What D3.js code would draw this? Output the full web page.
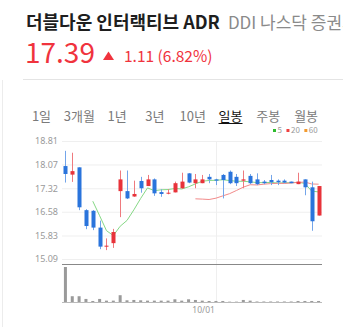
<!DOCTYPE html>
<html>
<head>
<meta charset="utf-8">
<script src="https://cdn.jsdelivr.net/npm/d3@7"></script>
<style>
  body { margin: 0; background: #fff; }
  svg { display: block; font-family: "Noto Sans CJK KR", "Noto Sans", sans-serif; }
</style>
</head>
<body>
<div id="chart"></div>
<script>
(function() {
    // ---- data ----
    var dates = ['08/31', '09/01', '09/02', '09/03', '09/07', '09/08', '09/09', '09/10',
                 '09/13', '09/14', '09/15', '09/16', '09/17', '09/20', '09/21', '09/22',
                 '09/23', '09/24', '09/27', '09/28', '09/29', '09/30', '10/01', '10/04',
                 '10/05', '10/06', '10/07', '10/08', '10/11', '10/12', '10/13', '10/14',
                 '10/15', '10/18', '10/19', '10/20', '10/21', '10/22'];
    var open  = [18.02, 17.75, 17.98, 16.63, 16.61, 16.08, 15.48, 15.59, 17.23, 17.23,
                 17.06, 17.55, 17.39, 17.60, 17.20, 17.16, 17.19, 17.32, 17.79, 17.48,
                 17.48, 17.68, 17.60, 17.74, 17.84, 17.68, 17.56, 17.71, 17.60, 17.53,
                 17.58, 17.56, 17.56, 17.53, 17.45, 17.60, 17.35, 16.46];
    var high  = [18.50, 18.44, 17.98, 16.66, 16.63, 16.30, 15.74, 16.04, 17.88, 17.88,
                 17.56, 17.68, 17.74, 17.63, 17.29, 17.29, 17.53, 17.81, 17.80, 17.77,
                 17.74, 17.77, 17.62, 17.77, 17.88, 17.77, 17.88, 17.77, 17.79, 17.58,
                 17.74, 17.60, 17.60, 17.53, 17.81, 17.60, 17.53, 17.39];
    var low   = [17.50, 17.52, 16.63, 16.03, 16.00, 15.40, 15.37, 15.44, 16.41, 16.98,
                 17.05, 17.18, 17.39, 17.08, 17.05, 17.13, 17.19, 17.30, 17.48, 17.32,
                 17.48, 17.48, 17.42, 17.00, 17.45, 17.39, 17.32, 17.45, 17.42, 17.45,
                 17.42, 17.42, 17.48, 17.48, 17.45, 17.10, 15.98, 16.46];
    var close = [17.77, 17.86, 16.72, 16.13, 16.08, 15.48, 15.51, 15.94, 17.60, 17.00,
                 17.14, 17.32, 17.60, 17.16, 17.14, 17.18, 17.48, 17.53, 17.50, 17.60,
                 17.60, 17.60, 17.56, 17.58, 17.48, 17.48, 17.60, 17.48, 17.45, 17.48,
                 17.51, 17.51, 17.50, 17.48, 17.53, 17.35, 16.28, 17.39];
    var volume = [1030, 170, 170, 90, 30, 90, 40, 40, 200, 50, 60, 50, 40, 40, 40, 40,
                  80, 40, 80, 60, 40, 30, 30, 30, 10, 10, 60, 40, 15, 15, 15, 15, 15,
                  15, 30, 30, 30, 30];
    var price_ticks = [15.09, 15.83, 16.58, 17.32, 18.07, 18.81];
    var date_ticks = ['10/01'];
    var periods = ['1일', '3개월', '1년', '3년', '10년', '일봉', '주봉', '월봉'];
    var selected_period = '일봉';
    var ma_periods = [5, 20, 60];

    var width = 343,
        height = 327,
        plot = { left: 62, right: 322, top: 141, bottom: 259 },
        vol = { top: 264, bottom: 302 },
        up_color = '#e8333a',
        down_color = '#2a74dc',
        up_wick = '#ef7a7e',
        down_wick = '#73a5ea',
        ma_colors = ['#86d886', '#f28a8a', '#f5a04a'],
        legend_colors = ['#2dbb2d', '#ee4040', '#f39a2e'],
        grid_color = '#efefef',
        label_color = '#9a9a9a';

    var svg = d3.select('#chart').append('svg')
        .attr('width', width)
        .attr('height', height);

    // panel borders
    svg.append('line')
        .attr('x1', 23).attr('x2', width).attr('y1', 79.5).attr('y2', 79.5)
        .attr('stroke', '#e4e4e4');
    svg.append('line')
        .attr('x1', 2.5).attr('x2', 2.5).attr('y1', 80).attr('y2', height)
        .attr('stroke', '#ececec');

    // header (exchange name runs off the right edge, as in the app)
    var title = svg.append('text')
        .attr('x', 26).attr('y', 29)
        .attr('font-size', 18).attr('font-weight', 'bold').attr('fill', '#1e1e1e')
        .text('더블다운 인터랙티브 ADR');
    var title_end = 26 + title.node().getComputedTextLength();
    svg.append('text')
        .attr('x', title_end + 8).attr('y', 29)
        .attr('font-size', 17).attr('fill', '#8a8a8a')
        .text('DDI 나스닥 증권거래소');

    var last = close.length - 1,
        change = close[last] - close[last - 1],
        pct = change / close[last - 1] * 100;

    svg.append('text')
        .attr('x', 25).attr('y', 63)
        .attr('font-size', 28).attr('fill', '#f0333d')
        .text(close[last].toFixed(2));
    svg.append('path')
        .attr('d', 'M103,60 L108.5,51.5 L114,60 Z')
        .attr('fill', '#f0333d');
    svg.append('text')
        .attr('x', 124).attr('y', 62)
        .attr('font-size', 15.5).attr('fill', '#f0333d')
        .text(change.toFixed(2) + ' (' + pct.toFixed(2) + '%)');

    // period tabs
    periods.forEach(function(p, i) {
        var t = svg.append('text')
            .attr('x', 41.5 + i * 37.8).attr('y', 121)
            .attr('text-anchor', 'middle')
            .attr('font-size', 13)
            .attr('fill', p === selected_period ? '#111' : '#7a7a7a')
            .text(p);
        if (p === selected_period) {
            var bb = t.node().getBBox();
            svg.append('line')
                .attr('x1', bb.x).attr('x2', bb.x + bb.width)
                .attr('y1', 123.5).attr('y2', 123.5)
                .attr('stroke', '#111');
        }
    });

    // MA legend
    var lx = 273;
    ma_periods.forEach(function(m, i) {
        svg.append('rect')
            .attr('x', lx).attr('y', 129).attr('width', 3).attr('height', 3)
            .attr('fill', legend_colors[i]);
        var t = svg.append('text')
            .attr('x', lx + 4.5).attr('y', 133)
            .attr('font-size', 8).attr('fill', label_color)
            .text(m);
        lx += 4.5 + t.node().getComputedTextLength() + 4.5;
    });

    // scales
    var x = d3.scaleBand()
        .domain(dates)
        .range([plot.left, plot.right]);
    var cx = function(d) { return x(d) + x.bandwidth() / 2; };
    var y = d3.scaleLinear()
        .domain([price_ticks[0], price_ticks[price_ticks.length - 1]])
        .range([plot.bottom, plot.top]);
    var yv = d3.scaleLinear()
        .domain([0, d3.max(volume)])
        .range([vol.bottom, vol.top + 3]);

    // grid + y axis
    var yAxis = svg.append('g')
        .attr('transform', 'translate(' + plot.left + ',0)')
        .call(d3.axisLeft(y)
            .tickValues(price_ticks)
            .tickFormat(d3.format('.2f'))
            .tickSize(-(plot.right - plot.left))
            .tickPadding(4));
    yAxis.select('.domain').remove();
    yAxis.selectAll('.tick line').attr('stroke', grid_color);
    yAxis.selectAll('.tick text')
        .attr('fill', label_color)
        .attr('font-size', 9)
        .attr('font-family', '"Noto Sans", sans-serif');

    // vertical date grid + label
    date_ticks.forEach(function(d) {
        svg.append('line')
            .attr('x1', Math.round(cx(d)) + 0.5).attr('x2', Math.round(cx(d)) + 0.5)
            .attr('y1', plot.top).attr('y2', vol.bottom)
            .attr('stroke', grid_color);
        svg.append('text')
            .attr('x', cx(d) - 1).attr('y', 313)
            .attr('text-anchor', 'end')
            .attr('font-size', 8.5).attr('fill', label_color)
            .attr('font-family', '"Noto Sans", sans-serif')
            .text(d);
    });

    // separator between price and volume
    svg.append('line')
        .attr('x1', plot.left).attr('x2', plot.right)
        .attr('y1', vol.top + 0.5).attr('y2', vol.top + 0.5)
        .attr('stroke', '#888');

    // volume bars
    svg.append('g').selectAll('rect')
        .data(dates)
        .enter().append('rect')
        .attr('x', function(d) { return cx(d) - 1.5; })
        .attr('width', 3)
        .attr('y', function(d, i) { return yv(volume[i]); })
        .attr('height', function(d, i) { return Math.max(0.6, vol.bottom - yv(volume[i])); })
        .attr('fill', '#9a9a9a');
    svg.append('line')
        .attr('x1', plot.left).attr('x2', plot.right)
        .attr('y1', vol.bottom + 0.5).attr('y2', vol.bottom + 0.5)
        .attr('stroke', '#bbb');

    // moving averages
    ma_periods.forEach(function(m, k) {
        var pts = [];
        for (var i = m - 1; i < close.length; i++) {
            pts.push([cx(dates[i]), y(d3.mean(close.slice(i - m + 1, i + 1)))]);
        }
        if (pts.length < 2) return;
        svg.append('path')
            .attr('d', d3.line()(pts))
            .attr('fill', 'none')
            .attr('stroke', ma_colors[k])
            .attr('stroke-width', 1);
    });

    // candles
    var candles = svg.append('g').selectAll('g')
        .data(dates)
        .enter().append('g');
    candles.append('line')
        .attr('x1', function(d) { return Math.round(cx(d)) + 0.5; })
        .attr('x2', function(d) { return Math.round(cx(d)) + 0.5; })
        .attr('y1', function(d, i) { return y(high[i]); })
        .attr('y2', function(d, i) { return y(low[i]); })
        .attr('stroke', function(d, i) { return close[i] >= open[i] ? up_wick : down_wick; });
    candles.append('rect')
        .attr('x', function(d) { return Math.round(cx(d)) - 1.5; })
        .attr('width', 4)
        .attr('y', function(d, i) { return y(Math.max(open[i], close[i])); })
        .attr('height', function(d, i) { return Math.max(1, Math.abs(y(open[i]) - y(close[i]))); })
        .attr('fill', function(d, i) { return close[i] >= open[i] ? up_color : down_color; });
})();
</script>
</body>
</html>
